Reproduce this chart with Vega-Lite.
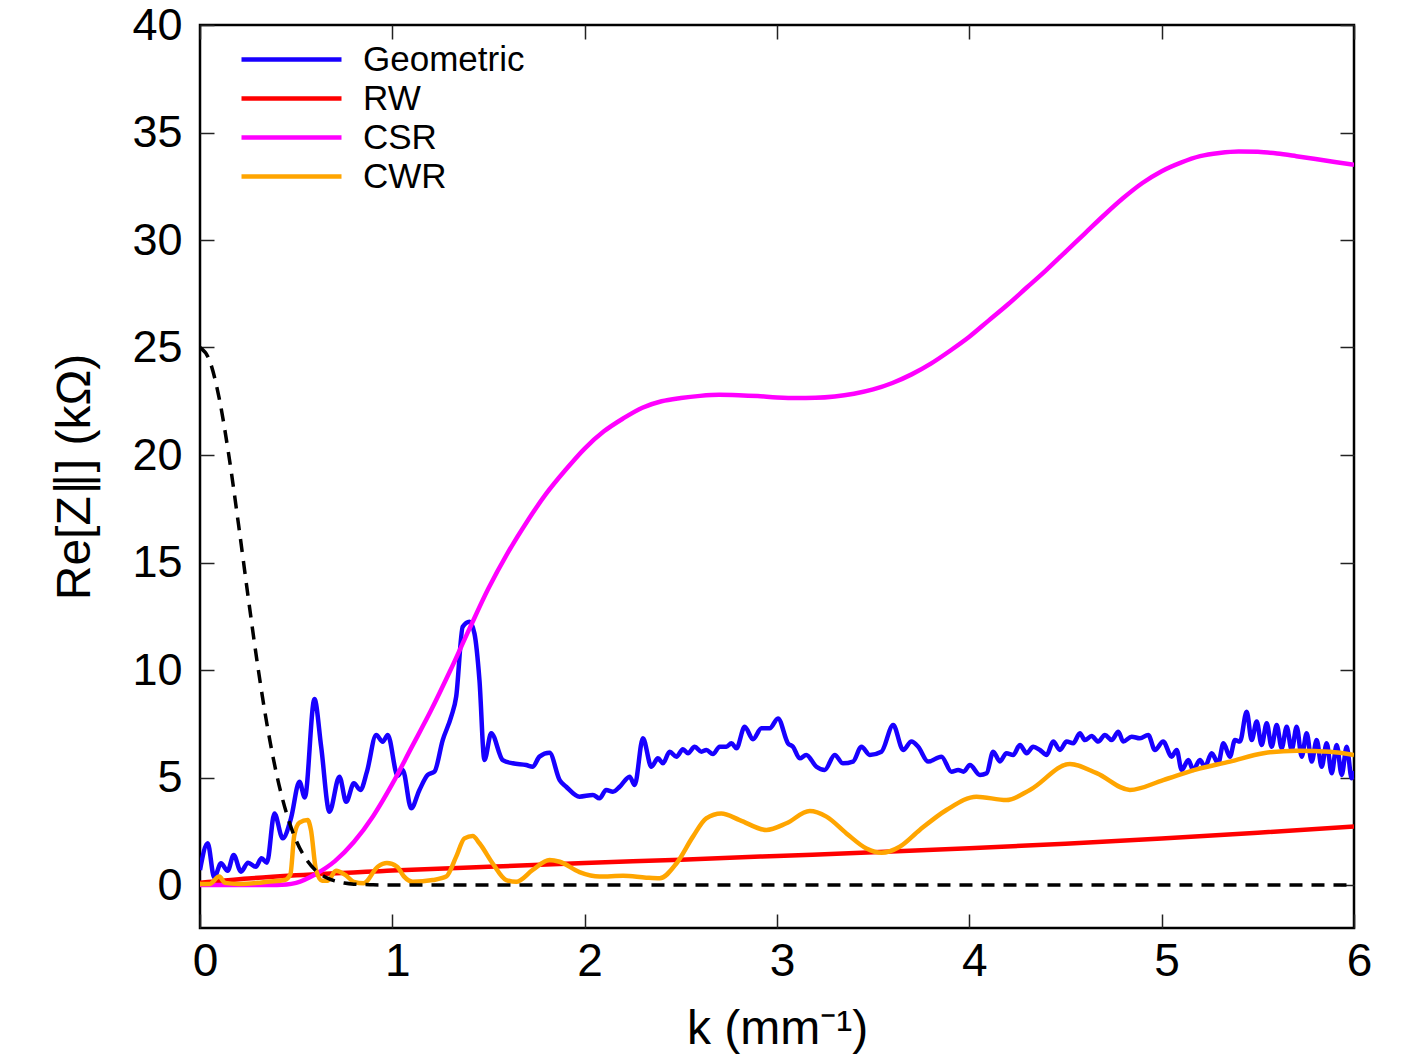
{
  "$schema": "https://vega.github.io/schema/vega-lite/v6.json",
  "width": 1154,
  "height": 903,
  "autosize": {"type": "none"},
  "padding": {"left": 200, "top": 25, "right": 65, "bottom": 129},
  "background": "white",
  "config": {
    "view": {"stroke": "black", "strokeWidth": 2.5},
    "font": "Liberation Sans",
    "axis": {"domain": false, "grid": false, "tickColor": "#222", "tickWidth": 1.5, "labelColor": "black", "titleColor": "black", "labelFont": "Liberation Sans", "titleFont": "Liberation Sans", "titleFontWeight": "normal"}
  },
  "datasets": {
    "curves": [
      {"k":0.0,"z":0.7,"s":"Geometric"},{"k":0.04,"z":1.94,"s":"Geometric"},{"k":0.074,"z":0.35,"s":"Geometric"},{"k":0.109,"z":1.01,"s":"Geometric"},{"k":0.144,"z":0.66,"s":"Geometric"},{"k":0.175,"z":1.4,"s":"Geometric"},{"k":0.213,"z":0.62,"s":"Geometric"},{"k":0.25,"z":1.04,"s":"Geometric"},{"k":0.29,"z":0.85,"s":"Geometric"},{"k":0.32,"z":1.24,"s":"Geometric"},{"k":0.348,"z":1.04,"s":"Geometric"},{"k":0.387,"z":3.33,"s":"Geometric"},{"k":0.43,"z":2.17,"s":"Geometric"},{"k":0.473,"z":3.1,"s":"Geometric"},{"k":0.517,"z":4.8,"s":"Geometric"},{"k":0.545,"z":4.07,"s":"Geometric"},{"k":0.595,"z":8.65,"s":"Geometric"},{"k":0.63,"z":6.43,"s":"Geometric"},{"k":0.673,"z":3.41,"s":"Geometric"},{"k":0.725,"z":5.04,"s":"Geometric"},{"k":0.76,"z":3.87,"s":"Geometric"},{"k":0.8,"z":4.73,"s":"Geometric"},{"k":0.834,"z":4.42,"s":"Geometric"},{"k":0.868,"z":5.27,"s":"Geometric"},{"k":0.916,"z":6.98,"s":"Geometric"},{"k":0.95,"z":6.66,"s":"Geometric"},{"k":0.976,"z":6.98,"s":"Geometric"},{"k":1.028,"z":5.08,"s":"Geometric"},{"k":1.054,"z":5.35,"s":"Geometric"},{"k":1.098,"z":3.57,"s":"Geometric"},{"k":1.141,"z":4.42,"s":"Geometric"},{"k":1.184,"z":5.12,"s":"Geometric"},{"k":1.219,"z":5.27,"s":"Geometric"},{"k":1.262,"z":6.74,"s":"Geometric"},{"k":1.306,"z":7.83,"s":"Geometric"},{"k":1.332,"z":8.76,"s":"Geometric"},{"k":1.366,"z":12.01,"s":"Geometric"},{"k":1.401,"z":12.25,"s":"Geometric"},{"k":1.427,"z":11.7,"s":"Geometric"},{"k":1.453,"z":9.53,"s":"Geometric"},{"k":1.479,"z":5.81,"s":"Geometric"},{"k":1.514,"z":7.06,"s":"Geometric"},{"k":1.574,"z":5.81,"s":"Geometric"},{"k":1.626,"z":5.66,"s":"Geometric"},{"k":1.696,"z":5.58,"s":"Geometric"},{"k":1.73,"z":5.5,"s":"Geometric"},{"k":1.765,"z":5.97,"s":"Geometric"},{"k":1.817,"z":6.15,"s":"Geometric"},{"k":1.87,"z":4.88,"s":"Geometric"},{"k":1.904,"z":4.57,"s":"Geometric"},{"k":1.973,"z":4.11,"s":"Geometric"},{"k":2.043,"z":4.19,"s":"Geometric"},{"k":2.077,"z":4.03,"s":"Geometric"},{"k":2.112,"z":4.42,"s":"Geometric"},{"k":2.147,"z":4.34,"s":"Geometric"},{"k":2.182,"z":4.57,"s":"Geometric"},{"k":2.234,"z":5.04,"s":"Geometric"},{"k":2.26,"z":4.65,"s":"Geometric"},{"k":2.303,"z":6.82,"s":"Geometric"},{"k":2.347,"z":5.5,"s":"Geometric"},{"k":2.381,"z":5.89,"s":"Geometric"},{"k":2.407,"z":5.66,"s":"Geometric"},{"k":2.442,"z":6.2,"s":"Geometric"},{"k":2.477,"z":5.97,"s":"Geometric"},{"k":2.511,"z":6.31,"s":"Geometric"},{"k":2.537,"z":6.13,"s":"Geometric"},{"k":2.572,"z":6.43,"s":"Geometric"},{"k":2.607,"z":6.2,"s":"Geometric"},{"k":2.633,"z":6.28,"s":"Geometric"},{"k":2.667,"z":6.09,"s":"Geometric"},{"k":2.702,"z":6.43,"s":"Geometric"},{"k":2.737,"z":6.43,"s":"Geometric"},{"k":2.763,"z":6.59,"s":"Geometric"},{"k":2.789,"z":6.36,"s":"Geometric"},{"k":2.832,"z":7.36,"s":"Geometric"},{"k":2.875,"z":6.78,"s":"Geometric"},{"k":2.919,"z":7.29,"s":"Geometric"},{"k":2.962,"z":7.29,"s":"Geometric"},{"k":3.005,"z":7.75,"s":"Geometric"},{"k":3.057,"z":6.59,"s":"Geometric"},{"k":3.083,"z":6.43,"s":"Geometric"},{"k":3.118,"z":5.89,"s":"Geometric"},{"k":3.152,"z":6.05,"s":"Geometric"},{"k":3.205,"z":5.5,"s":"Geometric"},{"k":3.248,"z":5.35,"s":"Geometric"},{"k":3.3,"z":6.05,"s":"Geometric"},{"k":3.343,"z":5.66,"s":"Geometric"},{"k":3.395,"z":5.74,"s":"Geometric"},{"k":3.439,"z":6.43,"s":"Geometric"},{"k":3.482,"z":6.05,"s":"Geometric"},{"k":3.543,"z":6.2,"s":"Geometric"},{"k":3.604,"z":7.44,"s":"Geometric"},{"k":3.656,"z":6.28,"s":"Geometric"},{"k":3.699,"z":6.67,"s":"Geometric"},{"k":3.734,"z":6.43,"s":"Geometric"},{"k":3.786,"z":5.74,"s":"Geometric"},{"k":3.855,"z":5.97,"s":"Geometric"},{"k":3.907,"z":5.27,"s":"Geometric"},{"k":3.942,"z":5.35,"s":"Geometric"},{"k":3.97,"z":5.27,"s":"Geometric"},{"k":4.003,"z":5.58,"s":"Geometric"},{"k":4.055,"z":5.12,"s":"Geometric"},{"k":4.09,"z":5.2,"s":"Geometric"},{"k":4.124,"z":6.2,"s":"Geometric"},{"k":4.159,"z":5.75,"s":"Geometric"},{"k":4.193,"z":6.13,"s":"Geometric"},{"k":4.228,"z":6.05,"s":"Geometric"},{"k":4.263,"z":6.51,"s":"Geometric"},{"k":4.298,"z":6.13,"s":"Geometric"},{"k":4.332,"z":6.43,"s":"Geometric"},{"k":4.367,"z":6.28,"s":"Geometric"},{"k":4.402,"z":6.05,"s":"Geometric"},{"k":4.436,"z":6.67,"s":"Geometric"},{"k":4.471,"z":6.28,"s":"Geometric"},{"k":4.506,"z":6.67,"s":"Geometric"},{"k":4.54,"z":6.59,"s":"Geometric"},{"k":4.575,"z":7.06,"s":"Geometric"},{"k":4.601,"z":6.74,"s":"Geometric"},{"k":4.636,"z":6.93,"s":"Geometric"},{"k":4.67,"z":6.67,"s":"Geometric"},{"k":4.705,"z":6.98,"s":"Geometric"},{"k":4.74,"z":6.74,"s":"Geometric"},{"k":4.775,"z":7.13,"s":"Geometric"},{"k":4.8,"z":6.67,"s":"Geometric"},{"k":4.844,"z":6.9,"s":"Geometric"},{"k":4.887,"z":6.82,"s":"Geometric"},{"k":4.93,"z":6.98,"s":"Geometric"},{"k":4.965,"z":6.28,"s":"Geometric"},{"k":5.008,"z":6.67,"s":"Geometric"},{"k":5.052,"z":5.97,"s":"Geometric"},{"k":5.078,"z":6.28,"s":"Geometric"},{"k":5.104,"z":5.35,"s":"Geometric"},{"k":5.139,"z":5.81,"s":"Geometric"},{"k":5.164,"z":5.35,"s":"Geometric"},{"k":5.199,"z":5.81,"s":"Geometric"},{"k":5.225,"z":5.5,"s":"Geometric"},{"k":5.26,"z":6.13,"s":"Geometric"},{"k":5.294,"z":5.66,"s":"Geometric"},{"k":5.321,"z":6.59,"s":"Geometric"},{"k":5.355,"z":5.97,"s":"Geometric"},{"k":5.381,"z":6.74,"s":"Geometric"},{"k":5.407,"z":6.67,"s":"Geometric"},{"k":5.442,"z":8.06,"s":"Geometric"},{"k":5.468,"z":6.74,"s":"Geometric"},{"k":5.494,"z":7.6,"s":"Geometric"},{"k":5.52,"z":6.51,"s":"Geometric"},{"k":5.546,"z":7.52,"s":"Geometric"},{"k":5.572,"z":6.43,"s":"Geometric"},{"k":5.598,"z":7.44,"s":"Geometric"},{"k":5.624,"z":6.36,"s":"Geometric"},{"k":5.65,"z":7.36,"s":"Geometric"},{"k":5.676,"z":6.28,"s":"Geometric"},{"k":5.702,"z":7.36,"s":"Geometric"},{"k":5.728,"z":5.97,"s":"Geometric"},{"k":5.754,"z":7.06,"s":"Geometric"},{"k":5.78,"z":5.74,"s":"Geometric"},{"k":5.806,"z":6.74,"s":"Geometric"},{"k":5.832,"z":5.5,"s":"Geometric"},{"k":5.858,"z":6.59,"s":"Geometric"},{"k":5.884,"z":5.2,"s":"Geometric"},{"k":5.91,"z":6.51,"s":"Geometric"},{"k":5.936,"z":5.12,"s":"Geometric"},{"k":5.962,"z":6.43,"s":"Geometric"},{"k":5.988,"z":4.96,"s":"Geometric"},{"k":6.0,"z":5.3,"s":"Geometric"},
      {"k":0.0,"z":0.1,"s":"RW"},{"k":0.25,"z":0.3,"s":"RW"},{"k":0.5,"z":0.45,"s":"RW"},{"k":1.0,"z":0.67,"s":"RW"},{"k":1.5,"z":0.85,"s":"RW"},{"k":2.0,"z":1.02,"s":"RW"},{"k":2.5,"z":1.18,"s":"RW"},{"k":3.0,"z":1.35,"s":"RW"},{"k":3.5,"z":1.52,"s":"RW"},{"k":4.0,"z":1.71,"s":"RW"},{"k":4.5,"z":1.92,"s":"RW"},{"k":5.0,"z":2.16,"s":"RW"},{"k":5.5,"z":2.43,"s":"RW"},{"k":6.0,"z":2.72,"s":"RW"},
      {"k":0.0,"z":0.0,"s":"CSR"},{"k":0.2,"z":0.0,"s":"CSR"},{"k":0.4,"z":0.0,"s":"CSR"},{"k":0.45,"z":0.02,"s":"CSR"},{"k":0.5,"z":0.1,"s":"CSR"},{"k":0.6,"z":0.5,"s":"CSR"},{"k":0.7,"z":1.1,"s":"CSR"},{"k":0.8,"z":2.0,"s":"CSR"},{"k":0.9,"z":3.2,"s":"CSR"},{"k":1.0,"z":4.7,"s":"CSR"},{"k":1.1,"z":6.4,"s":"CSR"},{"k":1.2,"z":8.1,"s":"CSR"},{"k":1.3,"z":9.95,"s":"CSR"},{"k":1.4,"z":11.9,"s":"CSR"},{"k":1.5,"z":13.8,"s":"CSR"},{"k":1.6,"z":15.45,"s":"CSR"},{"k":1.7,"z":16.9,"s":"CSR"},{"k":1.8,"z":18.2,"s":"CSR"},{"k":1.9,"z":19.3,"s":"CSR"},{"k":2.0,"z":20.3,"s":"CSR"},{"k":2.1,"z":21.1,"s":"CSR"},{"k":2.2,"z":21.7,"s":"CSR"},{"k":2.3,"z":22.2,"s":"CSR"},{"k":2.4,"z":22.5,"s":"CSR"},{"k":2.5,"z":22.65,"s":"CSR"},{"k":2.6,"z":22.75,"s":"CSR"},{"k":2.7,"z":22.8,"s":"CSR"},{"k":2.8,"z":22.78,"s":"CSR"},{"k":2.9,"z":22.74,"s":"CSR"},{"k":3.0,"z":22.68,"s":"CSR"},{"k":3.1,"z":22.65,"s":"CSR"},{"k":3.2,"z":22.66,"s":"CSR"},{"k":3.3,"z":22.72,"s":"CSR"},{"k":3.4,"z":22.85,"s":"CSR"},{"k":3.5,"z":23.05,"s":"CSR"},{"k":3.6,"z":23.35,"s":"CSR"},{"k":3.7,"z":23.75,"s":"CSR"},{"k":3.8,"z":24.25,"s":"CSR"},{"k":3.9,"z":24.85,"s":"CSR"},{"k":4.0,"z":25.5,"s":"CSR"},{"k":4.1,"z":26.25,"s":"CSR"},{"k":4.2,"z":27.0,"s":"CSR"},{"k":4.3,"z":27.8,"s":"CSR"},{"k":4.4,"z":28.6,"s":"CSR"},{"k":4.5,"z":29.45,"s":"CSR"},{"k":4.6,"z":30.3,"s":"CSR"},{"k":4.7,"z":31.15,"s":"CSR"},{"k":4.8,"z":31.95,"s":"CSR"},{"k":4.9,"z":32.65,"s":"CSR"},{"k":5.0,"z":33.2,"s":"CSR"},{"k":5.1,"z":33.6,"s":"CSR"},{"k":5.2,"z":33.9,"s":"CSR"},{"k":5.3,"z":34.05,"s":"CSR"},{"k":5.4,"z":34.12,"s":"CSR"},{"k":5.5,"z":34.1,"s":"CSR"},{"k":5.6,"z":34.02,"s":"CSR"},{"k":5.7,"z":33.9,"s":"CSR"},{"k":5.8,"z":33.77,"s":"CSR"},{"k":5.9,"z":33.63,"s":"CSR"},{"k":6.0,"z":33.5,"s":"CSR"},
      {"k":0.0,"z":0.05,"s":"CWR"},{"k":0.05,"z":0.05,"s":"CWR"},{"k":0.1,"z":0.39,"s":"CWR"},{"k":0.13,"z":0.1,"s":"CWR"},{"k":0.2,"z":0.05,"s":"CWR"},{"k":0.3,"z":0.1,"s":"CWR"},{"k":0.35,"z":0.15,"s":"CWR"},{"k":0.44,"z":0.23,"s":"CWR"},{"k":0.47,"z":0.5,"s":"CWR"},{"k":0.49,"z":2.3,"s":"CWR"},{"k":0.517,"z":2.9,"s":"CWR"},{"k":0.56,"z":3.02,"s":"CWR"},{"k":0.577,"z":2.55,"s":"CWR"},{"k":0.603,"z":0.7,"s":"CWR"},{"k":0.635,"z":0.2,"s":"CWR"},{"k":0.664,"z":0.2,"s":"CWR"},{"k":0.707,"z":0.66,"s":"CWR"},{"k":0.755,"z":0.47,"s":"CWR"},{"k":0.8,"z":0.15,"s":"CWR"},{"k":0.85,"z":0.08,"s":"CWR"},{"k":0.924,"z":0.85,"s":"CWR"},{"k":0.972,"z":1.02,"s":"CWR"},{"k":1.025,"z":0.85,"s":"CWR"},{"k":1.06,"z":0.4,"s":"CWR"},{"k":1.106,"z":0.15,"s":"CWR"},{"k":1.21,"z":0.23,"s":"CWR"},{"k":1.28,"z":0.39,"s":"CWR"},{"k":1.332,"z":1.32,"s":"CWR"},{"k":1.375,"z":2.17,"s":"CWR"},{"k":1.418,"z":2.28,"s":"CWR"},{"k":1.453,"z":1.94,"s":"CWR"},{"k":1.522,"z":1.0,"s":"CWR"},{"k":1.592,"z":0.23,"s":"CWR"},{"k":1.644,"z":0.15,"s":"CWR"},{"k":1.73,"z":0.7,"s":"CWR"},{"k":1.817,"z":1.16,"s":"CWR"},{"k":1.87,"z":1.08,"s":"CWR"},{"k":1.973,"z":0.6,"s":"CWR"},{"k":2.077,"z":0.39,"s":"CWR"},{"k":2.2,"z":0.43,"s":"CWR"},{"k":2.32,"z":0.34,"s":"CWR"},{"k":2.39,"z":0.31,"s":"CWR"},{"k":2.477,"z":1.0,"s":"CWR"},{"k":2.563,"z":2.25,"s":"CWR"},{"k":2.632,"z":3.1,"s":"CWR"},{"k":2.71,"z":3.33,"s":"CWR"},{"k":2.806,"z":3.02,"s":"CWR"},{"k":2.945,"z":2.56,"s":"CWR"},{"k":3.049,"z":2.87,"s":"CWR"},{"k":3.17,"z":3.44,"s":"CWR"},{"k":3.257,"z":3.18,"s":"CWR"},{"k":3.361,"z":2.4,"s":"CWR"},{"k":3.465,"z":1.7,"s":"CWR"},{"k":3.543,"z":1.5,"s":"CWR"},{"k":3.638,"z":1.78,"s":"CWR"},{"k":3.742,"z":2.56,"s":"CWR"},{"k":3.881,"z":3.49,"s":"CWR"},{"k":4.037,"z":4.11,"s":"CWR"},{"k":4.193,"z":3.95,"s":"CWR"},{"k":4.315,"z":4.42,"s":"CWR"},{"k":4.523,"z":5.63,"s":"CWR"},{"k":4.662,"z":5.2,"s":"CWR"},{"k":4.835,"z":4.42,"s":"CWR"},{"k":5.008,"z":4.88,"s":"CWR"},{"k":5.182,"z":5.38,"s":"CWR"},{"k":5.355,"z":5.74,"s":"CWR"},{"k":5.529,"z":6.13,"s":"CWR"},{"k":5.702,"z":6.25,"s":"CWR"},{"k":5.876,"z":6.2,"s":"CWR"},{"k":6.0,"z":6.05,"s":"CWR"}
    ],
    "spectrum": [
      {"k":0.0,"z":25.0},{"k":0.05,"z":24.39},{"k":0.1,"z":22.63},{"k":0.15,"z":19.98},{"k":0.2,"z":16.79},{"k":0.25,"z":13.42},{"k":0.3,"z":10.2},{"k":0.35,"z":7.38},{"k":0.4,"z":5.08},{"k":0.45,"z":3.33},{"k":0.5,"z":2.07},{"k":0.55,"z":1.23},{"k":0.6,"z":0.69},{"k":0.65,"z":0.37},{"k":0.7,"z":0.19},{"k":0.75,"z":0.09},{"k":0.8,"z":0.04},{"k":0.9,"z":0.01},{"k":1.0,"z":0.0},{"k":6.0,"z":0.0}
    ]
  },
  "layer": [
    {
      "data": {"name": "curves"},
      "mark": {"type": "line", "strokeWidth": 4.5, "interpolate": "monotone", "clip": true},
      "encoding": {
        "x": {"field": "k", "type": "quantitative", "scale": {"domain": [0, 6], "nice": false, "zero": false},
          "axis": {"orient": "bottom", "values": [0,1,2,3,4,5,6], "title": "k (mm⁻¹)", "labelFontSize": 46, "titleFontSize": 48, "ticks": true, "tickSize": -14, "labelPadding": 25, "labelOffset": 5, "labelFlush": false, "titleY": 115, "titleBaseline": "alphabetic"}},
        "y": {"field": "z", "type": "quantitative", "scale": {"domain": [-2, 40], "nice": false, "zero": false},
          "axis": {"orient": "left", "values": [0,5,10,15,20,25,30,35,40], "title": "Re[Z∥] (kΩ)", "labelFontSize": 45, "titleFontSize": 48, "ticks": true, "tickSize": -14, "labelPadding": 32, "labelFlush": false, "titleX": -111, "titleBaseline": "alphabetic"}},
        "color": {"field": "s", "type": "nominal", "sort": null,
          "scale": {"domain": ["Geometric", "RW", "CSR", "CWR"], "range": ["#1800ff", "#ff0000", "#ff00ff", "#ffa500"]},
          "legend": {"title": null, "orient": "none", "legendX": 71.5, "legendY": 14.5, "symbolType": "M-2.857,0H2.857", "symbolSize": 1225, "symbolStrokeWidth": 4.5, "labelFontSize": 35, "labelFont": "Liberation Sans", "labelColor": "black", "labelOffset": 51.5, "labelLimit": 400, "rowPadding": 1, "padding": 0}}
      }
    },
    {
      "data": {"name": "spectrum"},
      "mark": {"type": "line", "color": "black", "strokeWidth": 3.5, "strokeDash": [13, 9], "interpolate": "monotone", "clip": true},
      "encoding": {
        "x": {"field": "k", "type": "quantitative", "axis": {"orient": "top", "values": [0,1,2,3,4,5,6], "labels": false, "title": null, "tickSize": -14}},
        "y": {"field": "z", "type": "quantitative", "axis": {"orient": "right", "values": [0,5,10,15,20,25,30,35,40], "labels": false, "title": null, "tickSize": -14}}
      }
    }
  ],
  "resolve": {"axis": {"x": "independent", "y": "independent"}}
}
